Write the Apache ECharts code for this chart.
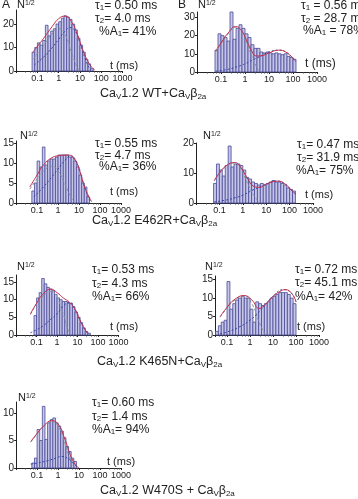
<!DOCTYPE html>
<html><head><meta charset="utf-8">
<script src="https://cdn.jsdelivr.net/npm/echarts@6/dist/echarts.min.js"></script>
<style>html,body{margin:0;padding:0;background:#fff}#c{width:358px;height:499px}</style>
</head><body><div id="c"></div>
<script>
// ---------- data ----------
const BIN_W = 0.125; // histogram bin width in log10(ms) units
const xTickLabels = ['0.1', '1', '10', '100', '1000'];

// WT + b2a, panel A
const wtA_binStartLog = -1.25;
const wtA_heights = [8, 10, 12, 11, 13, 19.5, 15, 17, 18, 20, 21, 22.5, 23.5, 23, 22, 20, 17.5, 14, 11, 8, 5, 3, 1];
const wtA_total = [[0.06,7.8],[0.1,10.5],[0.2,14],[0.5,19],[1,22.3],[2,23.4],[4,21],[8,15],[15,8],[30,2.5],[50,0.4]];
const wtA_c1 = [[0.065,5],[0.1,7.5],[0.2,11],[0.5,16],[1,18],[2,15.5],[4,8],[7,2],[10,0]];
const wtA_c2 = [[0.07,2.5],[0.2,6],[0.5,10],[1,13.5],[2,17],[3.5,18.5],[6,17],[10,12],[20,4],[30,0.5]];

// WT + b2a, panel B
const wtB_binStartLog = -1.25;
const wtB_heights = [12, 21, 20, 19, 17, 33, 18, 24, 26, 24, 21, 19, 15, 13, 13, 11, 10.5, 11, 10.5, 10, 10.5, 10, 9.5, 10, 8.5, 8, 7];
const wtB_total = [[0.06,11.5],[0.1,16],[0.2,21.5],[0.4,25],[0.7,23],[1.2,17],[2,11],[3,8.8],[5,9],[10,10.5],[25,12],[50,11],[100,7.5],[130,6]];
const wtB_c1 = [[0.06,11],[0.1,15.5],[0.2,21],[0.4,24.5],[0.7,22.5],[1.2,16],[2,8],[3,3],[4,0.5],[5,0]];
const wtB_c2 = [[0.06,0.5],[0.2,1.5],[0.5,3],[1,4.5],[2,6.5],[5,9],[10,11],[25,12],[50,11],[100,7.5],[130,5.5]];

// E462R + b2a, left
const e4A_binStartLog = -1.25;
const e4A_heights = [3, 5, 10.5, 9, 14, 9.5, 10.5, 11, 11, 11.5, 12, 12, 12, 12, 11.5, 11.5, 10.5, 9, 7, 5, 4, 1.5];
const e4A_total = [[0.045,4],[0.1,7],[0.2,9.5],[0.5,11.3],[1,11.8],[3,12],[6,11],[10,8.5],[20,3.5],[40,0.3]];
const e4A_c1 = [[0.045,3.5],[0.1,6],[0.2,8],[0.5,9.2],[1,8],[2,5],[4,1.5],[6,0.2]];
const e4A_c2 = [[0.07,1.5],[0.2,4],[0.5,6.5],[1,8.5],[2,10.5],[4,11.8],[8,10],[15,5.5],[30,1],[40,0.2]];

// E462R + b2a, right
const e4B_binStartLog = -1.25;
const e4B_heights = [6.5, 13, 11, 9, 12.5, 19, 12, 13, 13, 12.5, 11, 8.5, 8, 7, 6.5, 6, 6.5, 6, 6.5, 7, 7.5, 7, 7, 6.5, 6, 5, 4.5, 4];
const e4B_total = [[0.06,7.5],[0.1,10],[0.2,12.5],[0.45,13.5],[0.8,12],[1.5,8.5],[3,5.5],[5,5.2],[10,6.3],[30,7.3],[60,6.5],[130,4],[180,3]];
const e4B_c1 = [[0.06,7.3],[0.1,9.8],[0.2,12.2],[0.45,13.3],[0.8,11.5],[1.5,7],[3,2.5],[5,0.3]];
const e4B_c2 = [[0.06,0.4],[0.2,1],[0.5,1.8],[1,2.6],[3,4.5],[10,6.2],[30,7.3],[60,6.5],[130,4],[180,3]];

// K465N + b2a, left
const k4A_binStartLog = -1.125;
const k4A_heights = [5.5, 10.5, 12, 16, 14.5, 13.5, 13, 12.5, 11.5, 10.5, 10, 9.5, 9.5, 9, 9, 8, 6.5, 5, 3.5, 2, 1, 0.5];
const k4A_total = [[0.05,6],[0.1,9],[0.2,11.5],[0.5,13],[1,12],[2,10.5],[4,9.3],[8,7],[15,3.5],[30,0.5]];
const k4A_c1 = [[0.05,5.8],[0.1,8.8],[0.2,11],[0.5,12.3],[1,10.5],[2,6],[3,2.5],[4,0.8],[5,0]];
const k4A_c2 = [[0.05,0.6],[0.1,1.5],[0.2,2.5],[0.5,4.5],[1,6],[2,8.2],[4,9.2],[8,7],[15,3.5],[30,0.5]];

// K465N + b2a, right
const k4B_binStartLog = -1.5;
const k4B_heights = [1, 2.5, 3.5, 4, 14.5, 7, 8.5, 9.5, 10, 10.5, 10, 10, 7, 3.5, 9, 8.5, 8, 8.5, 9, 10, 10.5, 11, 11.5, 11.5, 11.5, 11, 10, 8.5];
const k4B_total = [[0.05,5],[0.1,7.5],[0.2,9.5],[0.55,10.7],[1.2,9.5],[2.5,7.2],[5,8.5],[10,10.5],[20,11.8],[35,12.3],[70,11],[100,9]];
const k4B_c1 = [[0.05,4.8],[0.1,7.3],[0.2,9.3],[0.55,10.5],[1.2,8.5],[2.5,3.5],[4,0.8],[5,0]];
const k4B_c2 = [[0.05,0.3],[0.1,0.8],[0.3,2],[1,4],[2.5,6.3],[5,8.4],[10,10.5],[28,12.3],[60,11.5],[100,9]];

// W470S + b2a
const w4_binStartLog = -1.25;
const w4_heights = [0.9, 1.8, 7, 5, 11.2, 5.2, 8.2, 8.8, 9.1, 8.2, 7.6, 6.7, 5.5, 3.9, 3, 1.8, 1.2];
const w4_total = [[0.05,4.8],[0.1,6.3],[0.2,7.6],[0.5,8.6],[1,8],[2,5.5],[4,2.2],[7,0.5],[10,0]];
const w4_c1 = [[0.05,4.7],[0.1,6.2],[0.2,7.5],[0.5,8.4],[1,7.6],[2,4.8],[4,1.2],[6,0.1]];
const w4_c2 = [[0.05,0.7],[0.1,0.9],[0.3,1.3],[0.8,1.8],[1.5,2.1],[3,1.7],[5,0.9],[8,0.2]];

// ---------- layout ----------
const FONT = 'Liberation Sans, Arial, sans-serif';
const panels = [
  {g:{left:10, top:10, width:112.5, height:61}, xmin:0.01, ymax:26, yt:[0,10,20], start:wtA_binStartLog, h:wtA_heights, tot:wtA_total, c1:wtA_c1, c2:wtA_c2},
  {g:{left:197, top:12, width:120, height:60}, xmin:0.01, ymax:33, yt:[0,10,20,30], start:wtB_binStartLog, h:wtB_heights, tot:wtB_total, c1:wtB_c1, c2:wtB_c2},
  {g:{left:11, top:141, width:110, height:62}, xmin:0.01, ymax:15.5, yt:[0,5,10,15], start:e4A_binStartLog, h:e4A_heights, tot:e4A_total, c1:e4A_c1, c2:e4A_c2},
  {g:{left:196, top:143, width:117, height:60}, xmin:0.01, ymax:20, yt:[0,10,20], start:e4B_binStartLog, h:e4B_heights, tot:e4B_total, c1:e4B_c1, c2:e4B_c2},
  {g:{left:11, top:275, width:107.5, height:60}, xmin:0.01, ymax:17, yt:[0,5,10,15], start:k4A_binStartLog, h:k4A_heights, tot:k4A_total, c1:k4A_c1, c2:k4A_c2},
  {g:{left:215, top:276, width:104, height:59}, xmin:0.03, ymax:16, yt:[0,5,10,15], start:k4B_binStartLog, h:k4B_heights, tot:k4B_total, c1:k4B_c1, c2:k4B_c2},
  {g:{left:11, top:402, width:110, height:66}, xmin:0.01, ymax:12, yt:[0,5,10], start:w4_binStartLog, h:w4_heights, tot:w4_total, c1:w4_c1, c2:w4_c2}
];

function fmtX(v) {
  const l = Math.log10(v), r = Math.round(l);
  if (Math.abs(l - r) > 1e-6) return '';
  const s = String(Number(Math.pow(10, r).toPrecision(3)));
  return xTickLabels.indexOf(s) >= 0 ? s : '';
}

const grid = [], xAxis = [], yAxis = [], series = [];
panels.forEach((p, i) => {
  grid.push(Object.assign({containLabel:false}, p.g));
  xAxis.push({type:'log', logBase:10, gridIndex:i, min:p.xmin, max:1000,
    axisLine:{show:true, lineStyle:{color:'#222', width:1}},
    axisTick:{show:true, length:2, lineStyle:{color:'#222'}},
    minorTick:{show:true, splitNumber:5, length:1.5, lineStyle:{color:'#444'}},
    axisLabel:{fontSize:9, color:'#222', margin:3, fontFamily:FONT, formatter:fmtX, showMinLabel:false},
    splitLine:{show:false}, minorSplitLine:{show:false}});
  yAxis.push({type:'value', gridIndex:i, min:0, max:p.ymax,
    axisLine:{show:true, lineStyle:{color:'#222', width:1}},
    axisTick:{show:true, length:2, customValues:p.yt, lineStyle:{color:'#222'}},
    axisLabel:{fontSize:10, color:'#222', margin:2, fontFamily:FONT, customValues:p.yt},
    splitLine:{show:false}});
  const bars = p.h.map((h, k) => [Math.pow(10, p.start + k * BIN_W), Math.pow(10, p.start + (k + 1) * BIN_W), h]);
  series.push({type:'custom', xAxisIndex:i, yAxisIndex:i, data:bars, encode:{x:[0,1], y:2}, z:2,
    renderItem:function(params, api){
      const a = api.coord([api.value(0), api.value(2)]);
      const b = api.coord([api.value(1), 0]);
      return {type:'rect', shape:{x:a[0], y:a[1], width:b[0]-a[0], height:b[1]-a[1]},
        style:{fill:'#c6c6e8', stroke:'#4a4a98', lineWidth:0.8}};
    }});
  series.push({type:'line', xAxisIndex:i, yAxisIndex:i, data:p.c1, smooth:0.5, symbol:'none', z:4,
    lineStyle:{color:'#7f9698', width:1, type:[3,2]}});
  series.push({type:'line', xAxisIndex:i, yAxisIndex:i, data:p.c2, smooth:0.5, symbol:'none', z:4,
    lineStyle:{color:'#3444a8', width:1, type:[2,2]}});
  series.push({type:'line', xAxisIndex:i, yAxisIndex:i, data:p.tot, smooth:0.5, symbol:'none', z:5,
    lineStyle:{color:'#c0304c', width:1}});
});

// ---------- text ----------
const rich = {
  sub:{fontSize:8, fontFamily:FONT, fill:'#222', verticalAlign:'bottom', lineHeight:11},
  sup:{fontSize:7, fontFamily:FONT, fill:'#222', verticalAlign:'top', lineHeight:8}
};
function txt(x, y, text, size) {
  return {type:'text', x:x, y:y, silent:true, z:100,
    style:{text:text, fontSize:size, fontFamily:FONT, fill:'#222', verticalAlign:'middle', rich:rich}};
}
const graphic = [
  txt(2, 5, 'A', 12), txt(178, 5, 'B', 12),
  txt(17, 5, 'N{sup|1/2}', 11), txt(198, 5, 'N{sup|1/2}', 11),
  txt(20, 136, 'N{sup|1/2}', 11), txt(203, 136, 'N{sup|1/2}', 11),
  txt(17, 267, 'N{sup|1/2}', 11), txt(205, 267, 'N{sup|1/2}', 11),
  txt(18, 398, 'N{sup|1/2}', 11),

  txt(95, 6, 'τ{sub|1}= 0.50 ms', 12), txt(95, 19, 'τ{sub|2}= 4.0 ms', 12), txt(99, 32, '%A{sub|1}= 41%', 12),
  txt(301, 6, 'τ{sub|1} = 0.56 ms', 12), txt(301, 19, 'τ{sub|2} = 28.7 ms', 12), txt(303, 31, '%A{sub|1} = 78%', 12),
  txt(95, 144, 'τ{sub|1}= 0.55 ms', 12), txt(95, 156, 'τ{sub|2}= 4.7 ms', 12), txt(99, 167, '%A{sub|1}= 36%', 12),
  txt(297, 145, 'τ{sub|1}= 0.47 ms', 12), txt(297, 158, 'τ{sub|2}= 31.9 ms', 12), txt(296, 171, '%A{sub|1}= 75%', 12),
  txt(92, 270, 'τ{sub|1}= 0.53 ms', 12), txt(92, 284, 'τ{sub|2}= 4.3 ms', 12), txt(92, 297, '%A{sub|1}= 66%', 12),
  txt(295, 270, 'τ{sub|1}= 0.72 ms', 12), txt(295, 283, 'τ{sub|2}= 45.1 ms', 12), txt(295, 297, '%A{sub|1}= 42%', 12),
  txt(92, 403, 'τ{sub|1}= 0.60 ms', 12), txt(92, 417, 'τ{sub|2}= 1.4 ms', 12), txt(92, 430, '%A{sub|1}= 94%', 12),

  txt(110, 66, 't (ms)', 11), txt(305, 64, 't (ms)', 12),
  txt(110, 192, 't (ms)', 11), txt(305, 195, 't (ms)', 11),
  txt(110, 327, 't (ms)', 11), txt(297, 327, 't (ms)', 11),
  txt(107, 462, 't (ms)', 11),

  txt(100, 94, 'Ca{sub|V}1.2 WT+Ca{sub|V}β{sub|2a}', 12.5),
  txt(92, 221, 'Ca{sub|V}1.2 E462R+Ca{sub|V}β{sub|2a}', 12.5),
  txt(97, 362, 'Ca{sub|V}1.2 K465N+Ca{sub|V}β{sub|2a}', 12.5),
  txt(100, 491, 'Ca{sub|V}1.2 W470S + Ca{sub|V}β{sub|2a}', 12.5)
];

const chart = echarts.init(document.getElementById('c'), null, {renderer:'canvas'});
chart.setOption({animation:false, backgroundColor:'#fff', grid, xAxis, yAxis, series, graphic});
</script>
</body></html>
